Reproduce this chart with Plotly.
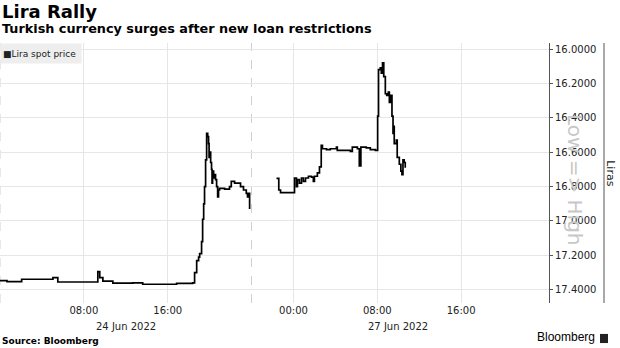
import plotly.graph_objects as go

# ---- data ----
fri_times = [
    "00:00", "00:40", "02:04", "05:03", "05:31", "09:15", "09:20", "09:31", "09:49",
    "10:46", "12:40", "13:37", "16:51", "18:23", "18:34", "18:46", "18:57", "19:03",
    "19:14", "19:20", "19:26", "19:31", "19:37", "19:43", "19:49", "19:54", "19:57",
    "20:03", "20:06", "20:11", "20:14", "20:17", "20:23", "20:29", "20:34", "20:40",
    "20:46", "20:51", "20:57", "21:26", "21:54", "22:04", "22:23", "22:40", "22:57",
    "23:14", "23:30", "23:37", "23:43", "23:49",
]
fri_values = [
    17.347, 17.353, 17.339, 17.330, 17.355, 17.355, 17.295, 17.330, 17.350,
    17.362, 17.360, 17.368, 17.363, 17.360, 17.300, 17.230, 17.210, 17.190,
    17.120, 16.990, 16.900, 16.800, 16.645, 16.490, 16.510, 16.550, 16.630,
    16.600, 16.660, 16.700, 16.780, 16.710, 16.750, 16.730, 16.760, 16.800,
    16.860, 16.820, 16.810, 16.815, 16.800, 16.770, 16.780, 16.780, 16.800,
    16.820, 16.840, 16.860, 16.840, 16.930,
]
sun_times = ["2022-06-26 22:23", "2022-06-26 22:36", "2022-06-26 22:46"]
sun_values = [16.752, 16.820, 16.835]
mon_times = [
    "00:00", "00:06", "00:17", "00:23", "00:34", "00:46", "00:57", "01:09", "01:26",
    "01:43", "01:54", "02:00", "02:17", "02:29", "02:39", "02:46", "03:09", "03:31",
    "04:06", "04:11", "04:46", "05:26", "05:37", "06:06", "06:17", "06:26", "06:57",
    "07:20", "07:49", "08:02", "08:07", "08:17", "08:23", "08:30", "08:37", "08:46",
    "08:54", "09:03", "09:09", "09:17", "09:24", "09:30", "09:36", "09:37", "09:49",
    "09:54", "10:06", "10:15", "10:21", "10:27", "10:34", "10:40",
]
mon_values = [
    16.835, 16.750, 16.800, 16.760, 16.780, 16.750, 16.770, 16.750, 16.740,
    16.745, 16.770, 16.740, 16.720, 16.685, 16.560, 16.580, 16.585, 16.580,
    16.570, 16.590, 16.590, 16.595, 16.570, 16.580, 16.680, 16.570, 16.575,
    16.585, 16.590, 16.390, 16.120, 16.110, 16.140, 16.080, 16.160, 16.260,
    16.270, 16.250, 16.310, 16.270, 16.390, 16.490, 16.450, 16.550, 16.530,
    16.630, 16.670, 16.710, 16.730, 16.645, 16.660, 16.690,
]

tick_vals = ["2022-06-24 08:00", "2022-06-24 16:00", "2022-06-27 00:00",
             "2022-06-27 08:00", "2022-06-27 16:00"]
tick_text = ["08:00", "16:00", "00:00", "08:00", "16:00"]
date_labels = ["24 Jun 2022", "27 Jun 2022"]
date_label_pos = ["2022-06-24 12:00", "2022-06-27 10:00"]
y_ticks = [16.0, 16.2, 16.4, 16.6, 16.8, 17.0, 17.2, 17.4]

x = ["2022-06-24 " + t for t in fri_times] + ["2022-06-26 21:00"] + sun_times + \
    ["2022-06-27 " + t for t in mon_times]
y = fri_values + [None] + sun_values + mon_values

FONT = "DejaVu Sans"

fig = go.Figure()
fig.add_trace(go.Scatter(x=x, y=y, mode="lines", line=dict(color="#000000", width=1.7, shape="hv"),
                         connectgaps=False, showlegend=False, hoverinfo="skip"))

fig.update_layout(
    width=620, height=348,
    margin=dict(l=0, r=71, t=43, b=45),
    paper_bgcolor="white", plot_bgcolor="white",
    font=dict(family=FONT, size=10, color="#222"),
    xaxis=dict(
        range=["2022-06-24 00:00", "2022-06-28 00:23"],
        rangebreaks=[dict(bounds=["2022-06-25 00:00", "2022-06-26 20:00"])],
        tickmode="array", tickvals=tick_vals, ticktext=tick_text,
        showgrid=True, gridcolor="#e6e6e6", gridwidth=1,
        zeroline=False, showline=False, ticks="",
        tickfont=dict(family=FONT, size=10, color="#222"),
    ),
    yaxis=dict(
        side="right", range=[17.477, 15.965],
        tickmode="array", tickvals=y_ticks, tickformat=".4f",
        showgrid=True, gridcolor="#e6e6e6", gridwidth=1,
        zeroline=False, showline=True, linecolor="#555", linewidth=1,
        ticks="outside", ticklen=3, tickcolor="#555",
        tickfont=dict(family=FONT, size=10, color="#222"),
    ),
)

# dashed day/break lines
for xv in ["2022-06-24 00:00", "2022-06-26 20:00"]:
    fig.add_shape(type="line", xref="x", yref="paper", x0=xv, x1=xv, y0=0, y1=1,
                  line=dict(color="#d0d0d0", width=1, dash="dash"), layer="below")

# right bracket line
fig.add_shape(type="line", xref="paper", yref="paper", x0=1.1002, x1=1.1002, y0=0, y1=1,
              line=dict(color="#555", width=1))

anns = []
anns.append(dict(text="<b>Lira Rally</b>", xref="paper", yref="paper", x=0, y=1,
                 xanchor="left", yanchor="top", yshift=43 + 1, showarrow=False,
                 font=dict(family=FONT, size=18, color="#000")))
anns.append(dict(text="<b>Turkish currency surges after new loan restrictions</b>", xref="paper",
                 yref="paper", x=0, y=1, xanchor="left", yanchor="top", yshift=43 - 19,
                 showarrow=False, font=dict(family=FONT, size=12.8, color="#000")))
anns.append(dict(text="■Lira spot price", xref="paper", yref="paper", x=0, y=1,
                 xanchor="left", yanchor="top", showarrow=False, bgcolor="#eeeeee",
                 width=76, height=15, align="left", borderpad=2,
                 font=dict(family=FONT, size=9, color="#222")))
for lbl, pos in zip(date_labels, date_label_pos):
    anns.append(dict(text=lbl, xref="x", yref="paper", x=pos, y=0, yanchor="top",
                     yshift=-16, showarrow=False, font=dict(family=FONT, size=10, color="#222")))
anns.append(dict(text="Liras", xref="paper", yref="paper", x=1.1125, y=0.5, textangle=90,
                 xanchor="center", showarrow=False, font=dict(family=FONT, size=11, color="#222")))
anns.append(dict(text="Low => High", xref="paper", yref="paper", x=1.073, y=0.473, textangle=90,
                 showarrow=False, font=dict(family=FONT, size=20, color="#c8c8c8")))
anns.append(dict(text="<b>Source: Bloomberg</b>", xref="paper", yref="paper", x=0, y=0,
                 xanchor="left", yanchor="bottom", yshift=-45, showarrow=False,
                 font=dict(family=FONT, size=9, color="#000")))
anns.append(dict(text="Bloomberg", xref="paper", yref="paper", x=1.0874, y=0,
                 xanchor="right", yanchor="bottom", yshift=-43, showarrow=False,
                 font=dict(family="Liberation Sans", size=12, color="#000")))
fig.update_layout(annotations=anns)

# small logo square
fig.add_shape(type="rect", xref="paper", yref="paper", x0=1.0929, x1=1.1075, y0=-0.154, y1=-0.119,
              fillcolor="#222", line=dict(width=0))

fig.write_html("out.html")
